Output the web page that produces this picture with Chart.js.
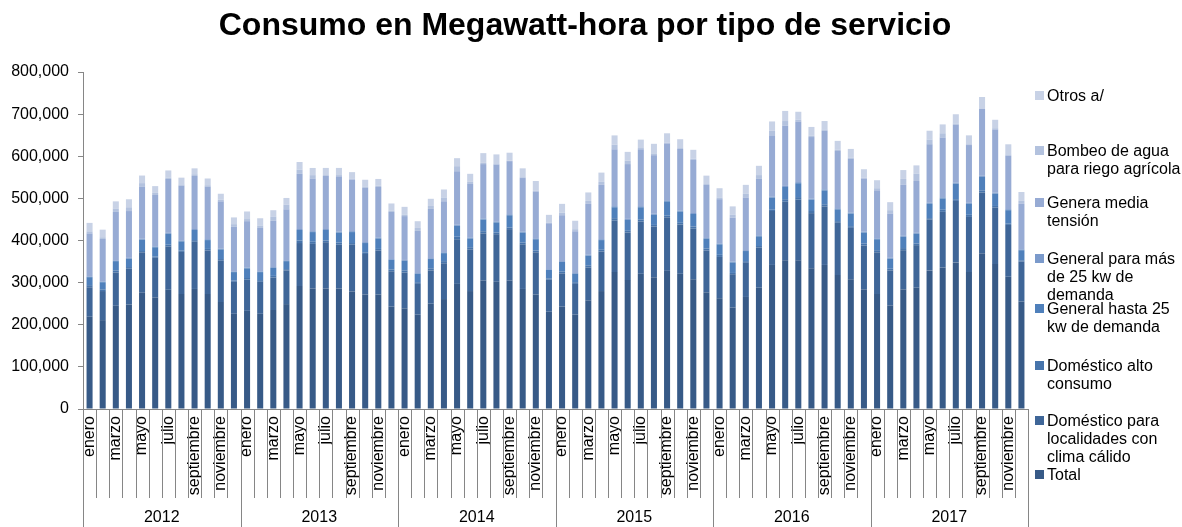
<!DOCTYPE html>
<html>
<head>
<meta charset="utf-8">
<script src="https://cdn.jsdelivr.net/npm/chart.js@4.4.0/dist/chart.umd.min.js"></script>
<style>
  body { margin: 0; background: #fff; }
  #wrap { position: relative; width: 1182px; height: 527px; font-family: "Liberation Sans", Arial, sans-serif; }
  #title { position: absolute; left: 0; top: 5px; width: 1170px; text-align: center; font-weight: bold; font-size: 32px; line-height: 38px; color: #000; }
  .leg { position: absolute; left: 1035px; font-size: 16px; line-height: 18px; color: #000; }
  .leg i { position: absolute; left: 0; top: 4px; width: 9px; height: 9px; }
  .leg span { display: block; margin-left: 12px; }
</style>
</head>
<body>
<div id="wrap">
  <canvas id="chart" width="1182" height="527"></canvas>
  <div id="title">Consumo en Megawatt-hora por tipo de servicio</div>
  <div id="legend"></div>
</div>
<script>
var months = ['enero','febrero','marzo','abril','mayo','junio','julio','agosto','septiembre','octubre','noviembre','diciembre'];
var years = ['2012','2013','2014','2015','2016','2017'];

// MWh, ene 2012 .. dic 2017
var total = [
  219000,211000,245000,248000,276000,265000,283000,273000,285000,273000,254000,226000,
  233000,226000,235000,249000,292000,286000,286000,286000,279000,272000,272000,243000,
  239000,224000,250000,261000,297000,280000,305000,302000,305000,285000,272000,231000,
  243000,224000,258000,280000,325000,306000,321000,313000,328000,321000,308000,277000,
  263000,241000,266000,288000,342000,353000,353000,334000,342000,318000,308000,284000,
  273000,246000,284000,288000,329000,336000,348000,325000,370000,344000,314000,255000];
var domCalido = [
  70000,69000,79000,85000,96000,94000,103000,100000,112000,103000,98000,76000,
  74000,76000,77000,80000,102000,106000,110000,104000,111000,96000,104000,84000,
  85000,73000,79000,85000,106000,99000,112000,113000,122000,106000,100000,76000,
  79000,73000,78000,94000,122000,113000,124000,120000,127000,117000,120000,99000,
  98000,79000,81000,95000,128000,139000,144000,131000,139000,124000,122000,104000,
  99000,83000,93000,101000,121000,132000,146000,131000,144000,134000,123000,95000];
var domAlto = [
  5000,4000,5000,4000,3000,3000,4000,3000,4000,4000,4000,3000,
  4000,4000,4000,3000,6000,5000,4000,5000,4000,4000,4000,4000,
  5000,4000,5000,5000,6000,5000,5000,4000,4000,4000,4000,3000,
  4000,4000,5000,4000,6000,4000,5000,4000,4000,4000,5000,5000,
  5000,3000,4000,4000,3000,6000,6000,5000,5000,4000,4000,5000,
  5000,4000,5000,4000,3000,5000,4000,5000,5000,4000,3000,3000];
var genHasta25 = [
  19000,17000,22000,20000,27000,22000,26000,22000,24000,21000,23000,20000,
  23000,19000,19000,19000,25000,23000,25000,24000,26000,22000,25000,23000,
  23000,20000,22000,19000,26000,21000,28000,24000,29000,24000,27000,20000,
  23000,20000,23000,23000,26000,26000,29000,24000,34000,27000,30000,23000,
  25000,25000,24000,23000,29000,29000,33000,27000,33000,28000,30000,26000,
  26000,24000,27000,23000,34000,27000,37000,26000,32000,29000,32000,24000];
var genMas25 = [
  1800,1700,1900,1900,2200,2100,2300,2200,2300,2200,2000,1800,
  1900,1800,1900,2000,2300,2200,2300,2300,2300,2200,2100,1900,
  1900,1800,2000,2100,2400,2300,2400,2400,2400,2300,2200,1900,
  2000,1900,2100,2200,2500,2400,2500,2500,2500,2400,2300,2000,
  2100,2000,2100,2300,2600,2600,2600,2600,2600,2500,2400,2100,
  2100,2000,2200,2300,2600,2600,2700,2600,2700,2600,2400,2100];
var mediaTension = [
  102000,101000,115000,111000,124000,122000,128000,130000,126000,125000,112000,106000,
  110000,103000,110000,121000,131000,125000,126000,131000,122000,129000,120000,112000,
  104000,100000,117000,121000,127000,127000,129000,135000,126000,127000,111000,109000,
  109000,99000,121000,129000,135000,130000,135000,139000,135000,146000,126000,126000,
  105000,104000,125000,134000,145000,143000,144000,146000,139000,136000,128000,126000,
  114000,105000,121000,123000,139000,142000,137000,137000,159000,150000,127000,108000];
var bombeo = [
  5000,4000,8000,9000,8000,5000,3000,3000,4000,3000,4000,6000,
  5000,5000,10000,11000,10000,8000,2000,3000,2000,3000,3000,3000,
  3000,7000,7000,9000,12000,5000,3000,1000,1000,2000,2000,1000,
  6000,5000,7000,7000,11000,8000,3000,3000,2000,2000,3000,2000,
  4000,7000,9000,9000,11000,11000,4000,3000,3000,3000,2000,2000,
  5000,8000,14000,17000,11000,10000,3000,2000,1000,3000,3000,7000];
var otros = [
  20000,18000,17000,19000,18000,16000,17000,16000,14000,16000,14000,16000,
  18000,18000,15000,16000,18000,17000,17000,17000,16000,16000,16000,17000,
  19000,16000,17000,19000,19000,19000,23000,23000,19000,21000,23000,19000,
  21000,20000,20000,22000,22000,21000,20000,24000,22000,21000,21000,20000,
  22000,20000,21000,22000,22000,24000,19000,21000,20000,21000,21000,20000,
  19000,19000,21000,20000,21000,21000,22000,21000,27000,20000,24000,21000];

var seriesNames = ['Total','Doméstico para localidades con clima cálido','Doméstico alto consumo',
  'General hasta 25 kw de demanda','General para más de 25 kw de demanda','Genera media tensión',
  'Bombeo de agua para riego agrícola','Otros a/'];
var seriesData = [total, domCalido, domAlto, genHasta25, genMas25, mediaTension, bombeo, otros];
var colors = ['#375a87','#3f6698','#4774ab','#4f80bb','#7b9acb','#97abd4','#b3c2de','#c8d2e6'];

// legend text split as in the original, top to bottom
var legendLines = [
  ['Otros a/'],
  ['Bombeo de agua','para riego agrícola'],
  ['Genera media','tensión'],
  ['General para más','de 25 kw de','demanda'],
  ['General hasta 25','kw de demanda'],
  ['Doméstico alto','consumo'],
  ['Doméstico para','localidades con','clima cálido'],
  ['Total']
];
var legendTop = [87, 142, 194, 250, 300, 357, 412, 466];

var labels = [];
years.forEach(function(y) { months.forEach(function(m) { labels.push(m); }); });

var datasets = seriesData.map(function(d, i) {
  return {
    label: seriesNames[i],
    data: d,
    backgroundColor: colors[i],
    borderWidth: 0,
    barPercentage: 0.46,
    categoryPercentage: 1
  };
});

var legend = document.getElementById('legend');
legendLines.forEach(function(lines, k) {
  var idx = colors.length - 1 - k;
  var div = document.createElement('div');
  div.className = 'leg';
  div.style.top = legendTop[k] + 'px';
  div.innerHTML = '<i style="background:' + colors[idx] + '"></i><span>' + lines.join('<br>') + '</span>';
  legend.appendChild(div);
});

// long separator lines and year labels under the month labels
var yearAxis = {
  id: 'yearAxis',
  afterDraw: function(chart) {
    var ctx = chart.ctx, x = chart.scales.x, area = chart.chartArea;
    var w = x.getPixelForValue(1) - x.getPixelForValue(0);
    ctx.save();
    ctx.strokeStyle = '#868686';
    ctx.lineWidth = 1;
    for (var i = 0; i <= labels.length; i++) {
      var px = Math.round(x.getPixelForValue(0) - w / 2 + i * w) + 0.5;
      var end = (i % 12 === 0) ? 527 : 498;
      ctx.beginPath();
      ctx.moveTo(px, area.bottom);
      ctx.lineTo(px, end);
      ctx.stroke();
    }
    ctx.fillStyle = '#000';
    ctx.font = '16px "Liberation Sans", Arial, sans-serif';
    ctx.textAlign = 'center';
    ctx.textBaseline = 'middle';
    years.forEach(function(y, j) {
      var cx = (x.getPixelForValue(j * 12) + x.getPixelForValue(j * 12 + 11)) / 2;
      ctx.fillText(y, cx, 518);
    });
    ctx.restore();
  }
};

var ctx = document.getElementById('chart').getContext('2d');
var chart = new Chart(ctx, {
  type: 'bar',
  data: { labels: labels, datasets: datasets },
  plugins: [yearAxis],
  options: {
    responsive: false,
    animation: false,
    layout: { padding: { top: 72, right: 154, left: 0, bottom: 0 } },
    plugins: {
      legend: { display: false },
      title: { display: false },
      tooltip: { enabled: false }
    },
    scales: {
      x: {
        stacked: true,
        grid: { display: true, drawOnChartArea: false, drawTicks: false },
        border: { display: true, color: '#868686' },
        ticks: {
          autoSkip: false,
          minRotation: 90,
          maxRotation: 90,
          padding: 7,
          color: '#000',
          font: { family: '"Liberation Sans", Arial, sans-serif', size: 16 },
          callback: function(v, i) { return i % 2 === 0 ? labels[i] : ''; }
        },
        afterFit: function(s) { s.height = 118; }
      },
      y: {
        stacked: true,
        min: 0,
        max: 800000,
        grid: { display: true, drawOnChartArea: false, drawTicks: true, tickLength: 5, color: '#868686' },
        border: { display: true, color: '#868686' },
        ticks: {
          stepSize: 100000,
          padding: 9,
          color: '#000',
          font: { family: '"Liberation Sans", Arial, sans-serif', size: 16 },
          callback: function(v) { return v.toLocaleString('en-US'); }
        },
        afterFit: function(s) { s.width = 83; }
      }
    }
  }
});
</script>
</body>
</html>
